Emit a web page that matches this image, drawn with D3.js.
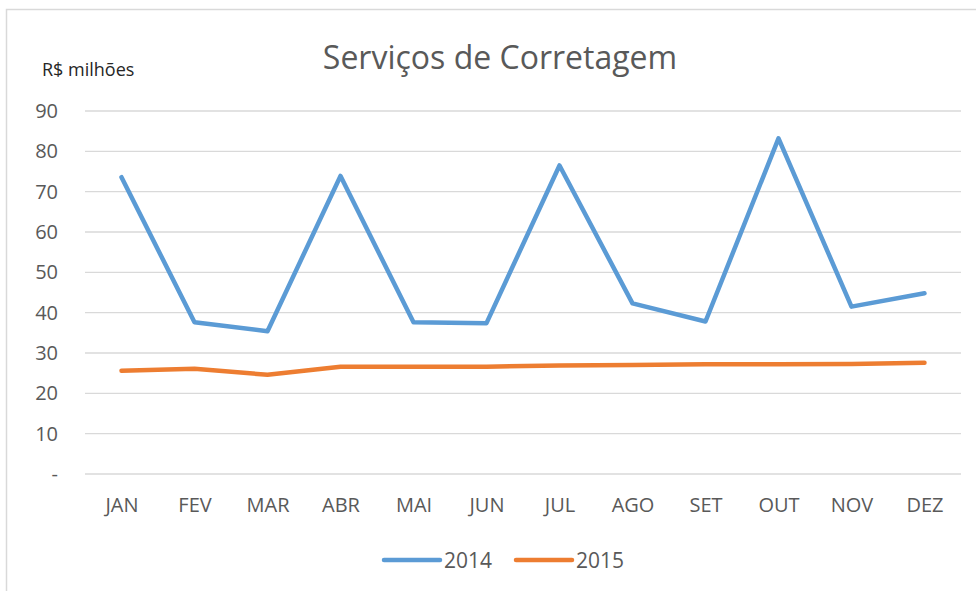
<!DOCTYPE html>
<html>
<head>
<meta charset="utf-8">
<script src="https://cdn.jsdelivr.net/npm/d3@7"></script>
<style>
  body { margin: 0; background: #fff; }
  text { font-family: "Open Sans", sans-serif; }
</style>
</head>
<body>
<svg id="chart" width="976" height="591"></svg>
<script>
const months = ["JAN", "FEV", "MAR", "ABR", "MAI", "JUN", "JUL", "AGO", "SET", "OUT", "NOV", "DEZ"];
const values2014 = [73.6, 37.6, 35.4, 73.9, 37.6, 37.4, 76.5, 42.3, 37.8, 83.2, 41.5, 44.8];
const values2015 = [25.6, 26.1, 24.6, 26.6, 26.6, 26.6, 26.9, 27.0, 27.2, 27.2, 27.3, 27.6];
const yTicks = [0, 10, 20, 30, 40, 50, 60, 70, 80, 90];
const seriesNames = ["2014", "2015"];
const colors = ["#5B9BD5", "#ED7D31"];

const series = [values2014, values2015];

const margin = {top: 111, right: 15, bottom: 117, left: 85};
const width = 976 - margin.left - margin.right;
const height = 591 - margin.top - margin.bottom;

const svg = d3.select("#chart");

// chart frame
svg.append("rect")
    .attr("x", 6.5)
    .attr("y", 9.5)
    .attr("width", 980)
    .attr("height", 600)
    .attr("fill", "none")
    .attr("stroke", "#d9d9d9")
    .attr("stroke-width", 1.5);

const chart = svg.append("g")
    .attr("transform", `translate(${margin.left},${margin.top})`);

const x = d3.scalePoint()
    .domain(months)
    .range([0, width])
    .padding(0.5);

const y = d3.scaleLinear()
    .domain([0, 90])
    .range([height, 0]);

// gridlines
chart.append("g")
    .attr("class", "grid")
    .selectAll("line")
    .data(yTicks)
    .enter().append("line")
    .attr("x1", 0)
    .attr("x2", width)
    .attr("y1", d => y(d))
    .attr("y2", d => y(d))
    .attr("stroke", "#d9d9d9")
    .attr("stroke-width", 1.3);

const yAxis = d3.axisLeft(y)
    .tickValues(yTicks)
    .tickSize(0)
    .tickPadding(27)
    .tickFormat(d => d === 0 ? "-" : d);

chart.append("g")
    .attr("class", "y axis")
    .call(yAxis)
    .call(g => g.select(".domain").remove())
    .selectAll("text")
    .attr("fill", "#595959")
    .style("font-size", "20px");

const xAxis = d3.axisBottom(x)
    .tickSize(0)
    .tickPadding(24);

chart.append("g")
    .attr("class", "x axis")
    .attr("transform", `translate(0,${height})`)
    .call(xAxis)
    .call(g => g.select(".domain").remove())
    .selectAll("text")
    .attr("fill", "#595959")
    .style("font-size", "20px");

const line = d3.line()
    .x((d, i) => x(months[i]))
    .y(d => y(d));

chart.selectAll(".series")
    .data(series)
    .enter().append("path")
    .attr("class", "series")
    .attr("d", line)
    .attr("fill", "none")
    .attr("stroke", (d, i) => colors[i])
    .attr("stroke-width", 4.5)
    .attr("stroke-linejoin", "round")
    .attr("stroke-linecap", "round");

// title
svg.append("text")
    .attr("x", 500)
    .attr("y", 69)
    .attr("text-anchor", "middle")
    .attr("fill", "#595959")
    .style("font-size", "32px")
    .text("Serviços de Corretagem");

svg.append("text")
    .attr("x", 42)
    .attr("y", 76)
    .attr("fill", "#262626")
    .style("font-size", "18px")
    .text("R$ milhões");

// legend
const legend = svg.append("g")
    .attr("transform", "translate(384,560)");

const items = legend.selectAll("g")
    .data(seriesNames)
    .enter().append("g")
    .attr("transform", (d, i) => `translate(${i * 132},0)`);

items.append("line")
    .attr("x1", 0)
    .attr("x2", 56)
    .attr("stroke", (d, i) => colors[i])
    .attr("stroke-width", 4.5)
    .attr("stroke-linecap", "round");

items.append("text")
    .attr("x", 60)
    .attr("y", 8)
    .attr("fill", "#595959")
    .style("font-size", "21px")
    .text(d => d);
</script>
</body>
</html>
